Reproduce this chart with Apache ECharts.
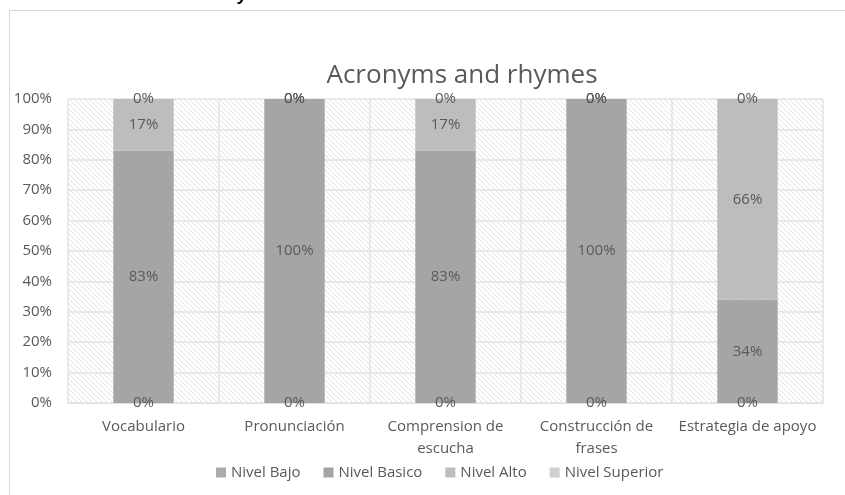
<!DOCTYPE html>
<html>
<head>
<meta charset="utf-8">
<script src="https://cdn.jsdelivr.net/npm/echarts@6/dist/echarts.min.js"></script>
<style>
  html, body { margin: 0; padding: 0; background: #fff; }
  #frame { position: absolute; left: 9px; top: 10px; width: 900px; height: 520px; border: 1px solid #d9d9d9; box-sizing: border-box; }
  #chart { position: absolute; left: 0; top: 0; width: 845px; height: 495px; }
</style>
</head>
<body>
<div id="frame"></div>
<div id="chart"></div>
<script>
// Categories and stacked percentage values per level
const categories = ['Vocabulario', 'Pronunciación', 'Comprension de\nescucha', 'Construcción de\nfrases', 'Estrategia de apoyo'];
const nivelBajo = [0, 0, 0, 0, 0];
const nivelBasico = [83, 100, 83, 100, 34];
const nivelAlto = [17, 0, 17, 0, 66];
const nivelSuperior = [0, 0, 0, 0, 0];
const seriesNames = ['Nivel Bajo', 'Nivel Basico', 'Nivel Alto', 'Nivel Superior'];
const seriesColors = ['#ababab', '#a5a5a5', '#bdbdbd', '#d0d0d0'];

// Diagonal hatch tile for the plot background
function hatchTile() {
  const s = 5;
  const c = document.createElement('canvas');
  c.width = s; c.height = s;
  const g = c.getContext('2d');
  g.fillStyle = '#ffffff';
  g.fillRect(0, 0, s, s);
  g.strokeStyle = '#dedede';
  g.lineWidth = 0.9;
  g.beginPath();
  g.moveTo(-1, -1); g.lineTo(s + 1, s + 1);
  g.moveTo(-1, s - 1); g.lineTo(1, s + 1);
  g.moveTo(s - 1, -1); g.lineTo(s + 1, 1);
  g.stroke();
  return c;
}

const font = 'Open Sans';
const textColor = '#595959';

const chart = echarts.init(document.getElementById('chart'), null, { renderer: 'canvas' });

function makeSeries(name, data, color) {
  return {
    name: name,
    type: 'bar',
    stack: 'total',
    data: data,
    barCategoryGap: '60%',
    itemStyle: { color: color },
    label: {
      show: true,
      position: 'inside',
      formatter: '{c}%',
      color: textColor,
      fontFamily: font,
      fontSize: 15
    }
  };
}

chart.setOption({
  animation: false,
  textStyle: { fontFamily: font },
  title: {
    text: 'Acronyms and rhymes',
    left: 457,
    top: 58,
    textAlign: 'center',
    textStyle: { fontFamily: font, fontSize: 26, fontWeight: 'normal', color: textColor }
  },
  graphic: [{
    type: 'text',
    left: 238,
    top: -14,
    style: { text: 'y', font: 'italic bold 18px "Liberation Sans"', fill: '#000' }
  }],
  legend: {
    bottom: 10,
    left: 211,
    itemWidth: 10,
    itemHeight: 10,
    itemGap: 23,
    icon: 'rect',
    textStyle: { fontFamily: font, fontSize: 15, color: textColor },
    data: seriesNames
  },
  grid: {
    left: 68, right: 22, top: 99, bottom: 92,
    show: true,
    borderWidth: 0,
    backgroundColor: { image: hatchTile(), repeat: 'repeat' }
  },
  xAxis: {
    type: 'category',
    data: categories,
    axisTick: { show: false },
    axisLine: { show: true, lineStyle: { color: '#e0e0e0' } },
    splitLine: { show: true, lineStyle: { color: '#e3e3e3', width: 1.5 } },
    axisLabel: { color: textColor, fontFamily: font, fontSize: 15, margin: 13, lineHeight: 22, interval: 0 }
  },
  yAxis: {
    type: 'value',
    min: 0, max: 100, interval: 10,
    axisLine: { show: false },
    axisTick: { show: false },
    splitLine: { lineStyle: { color: '#e3e3e3', width: 1.5 } },
    axisLabel: { formatter: '{value}%', color: textColor, fontFamily: font, fontSize: 15, margin: 16 }
  },
  series: [
    makeSeries(seriesNames[0], nivelBajo, seriesColors[0]),
    makeSeries(seriesNames[1], nivelBasico, seriesColors[1]),
    makeSeries(seriesNames[2], nivelAlto, seriesColors[2]),
    makeSeries(seriesNames[3], nivelSuperior, seriesColors[3])
  ]
});
</script>
</body>
</html>
